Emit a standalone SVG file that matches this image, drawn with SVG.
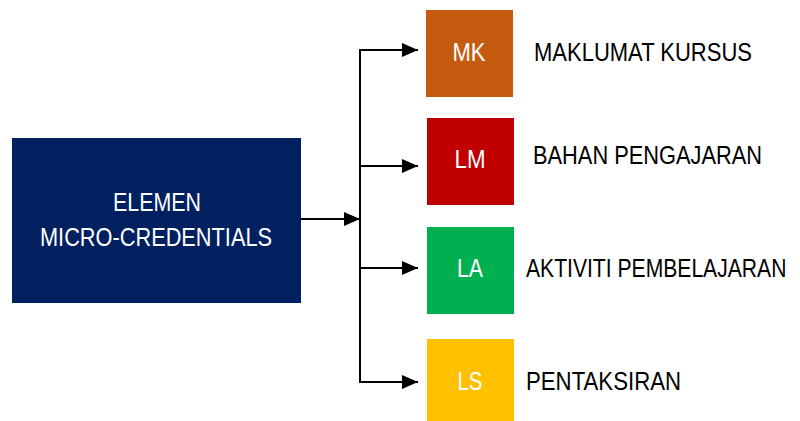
<svg xmlns="http://www.w3.org/2000/svg" width="800" height="421" viewBox="0 0 800 421">
<style>
text{font-family:"Liberation Sans Narrow","Liberation Sans",Arial,sans-serif;font-size:25px}
.w{fill:#fff;text-anchor:middle}
.k{fill:#000}
.c{stroke:#000;stroke-width:2;fill:none}
</style>
<defs>
<marker id="ah" markerWidth="8" markerHeight="7" refX="8" refY="3.5" orient="auto" markerUnits="strokeWidth">
<path d="M0,0L8,3.5L0,7Z" fill="#000"/>
</marker>
</defs>
<rect width="800" height="421" fill="#fff"/>
<g id="main">
<rect x="12" y="138" width="289" height="165" fill="#002060"/>
<text class="w" x="157" y="211" textLength="88" lengthAdjust="spacingAndGlyphs">ELEMEN</text>
<text class="w" x="156" y="246" textLength="232" lengthAdjust="spacingAndGlyphs">MICRO-CREDENTIALS</text>
</g>
<g id="connectors">
<path class="c" d="M301,219H360" marker-end="url(#ah)"/>
<path class="c" d="M360,50V383"/>
<path class="c" d="M359,50H418" marker-end="url(#ah)"/>
<path class="c" d="M359,166H418" marker-end="url(#ah)"/>
<path class="c" d="M359,268H418" marker-end="url(#ah)"/>
<path class="c" d="M359,382H418" marker-end="url(#ah)"/>
</g>
<g id="mk">
<rect x="426" y="10" width="87" height="87" fill="#C55A11"/>
<text class="w" x="469" y="61" textLength="33" lengthAdjust="spacingAndGlyphs">MK</text>
<text class="k" x="534" y="61" textLength="218" lengthAdjust="spacingAndGlyphs">MAKLUMAT KURSUS</text>
</g>
<g id="lm">
<rect x="427" y="118" width="87" height="87" fill="#C00000"/>
<text class="w" x="470" y="168" textLength="31" lengthAdjust="spacingAndGlyphs">LM</text>
<text class="k" x="533" y="164" textLength="229" lengthAdjust="spacingAndGlyphs">BAHAN PENGAJARAN</text>
</g>
<g id="la">
<rect x="427" y="227" width="87" height="87" fill="#00B050"/>
<text class="w" x="470" y="277" textLength="26" lengthAdjust="spacingAndGlyphs">LA</text>
<text class="k" transform="translate(526,277) scale(0.845,1)">AKTIVITI PEMBELAJARAN</text>
</g>
<g id="ls">
<rect x="427" y="339" width="87" height="82" fill="#FFC000"/>
<text class="w" x="470" y="390" textLength="25" lengthAdjust="spacingAndGlyphs">LS</text>
<text class="k" x="526" y="390" textLength="155" lengthAdjust="spacingAndGlyphs">PENTAKSIRAN</text>
</g>
</svg>
